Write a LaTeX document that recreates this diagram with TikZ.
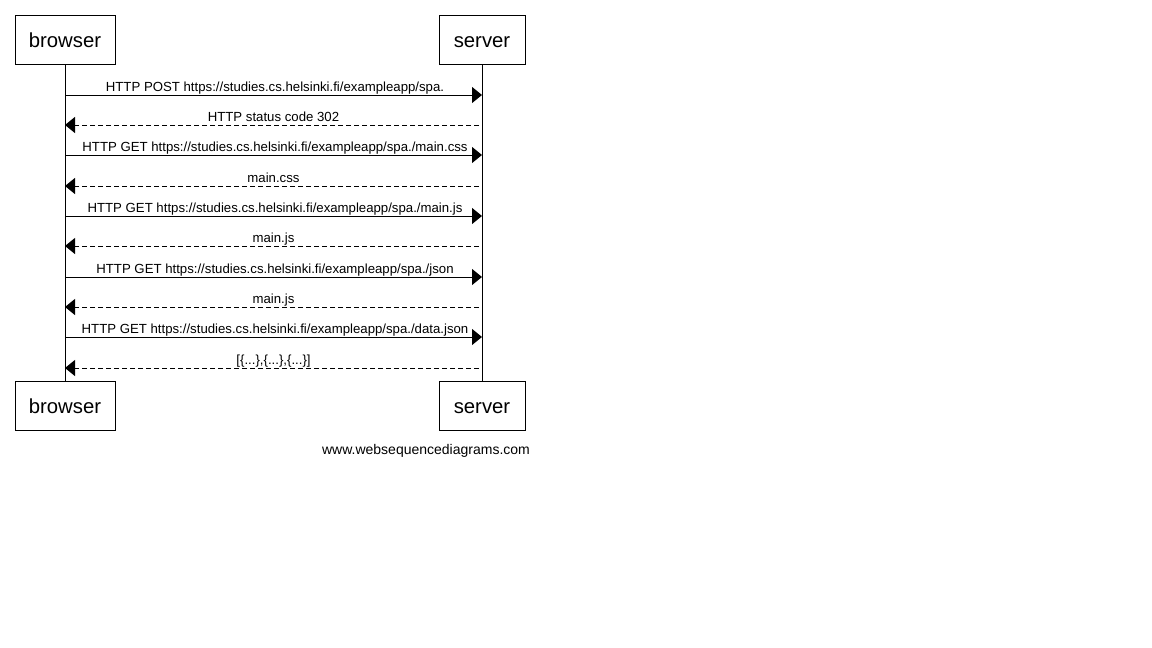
\documentclass[tikz,border=0pt]{standalone}
\usepackage{fontspec}
\setmainfont{Liberation Sans}
\usetikzlibrary{arrows.meta}
\begin{document}
\begin{tikzpicture}[x=1pt,y=-1pt,
  actor/.style={draw,line width=1pt,minimum height=49pt,inner sep=0pt,text height=15pt,text depth=0pt,font=\fontsize{20.3}{24}\selectfont},
  life/.style={line width=1pt},
  req/.style={line width=1pt,-{Triangle[length=10pt,width=16pt]}},
  resp/.style={line width=1pt,dash pattern=on 5pt off 3pt,-{Triangle[length=10pt,width=16pt]}},
  lbl/.style={midway,anchor=base,yshift=4pt,xshift=1.5pt,inner sep=0pt,font=\fontsize{13.2}{15}\selectfont}]
\fill[white] (0,0) rectangle (1152,648);
\useasboundingbox (0,0) rectangle (1152,648);
\node[actor,minimum width=100pt] (bt) at (65,39.5) {browser};
\node[actor,minimum width=86pt] (st) at (482,39.5) {server};
\node[actor,minimum width=100pt] (bb) at (65,405.5) {browser};
\node[actor,minimum width=86pt] (sb) at (482,405.5) {server};
\draw[life] (bt.south) -- (bb.north);
\draw[life] (st.south) -- (sb.north);
\coordinate (b1) at (65,95);  \coordinate (s1) at (482,95);
\coordinate (b2) at (65,125); \coordinate (s2) at (479,125);
\coordinate (b3) at (65,155); \coordinate (s3) at (482,155);
\coordinate (b4) at (65,186); \coordinate (s4) at (479,186);
\coordinate (b5) at (65,216); \coordinate (s5) at (482,216);
\coordinate (b6) at (65,246); \coordinate (s6) at (479,246);
\coordinate (b7) at (65,277); \coordinate (s7) at (482,277);
\coordinate (b8) at (65,307); \coordinate (s8) at (479,307);
\coordinate (b9) at (65,337); \coordinate (s9) at (482,337);
\coordinate (b10) at (65,368); \coordinate (s10) at (479,368);
\draw[req] (b1) -- (s1) node[lbl] {HTTP POST https://studies.cs.helsinki.fi/exampleapp/spa.};
\draw[resp] (s2) -- (b2) node[lbl] {HTTP status code 302};
\draw[req] (b3) -- (s3) node[lbl] {HTTP GET https://studies.cs.helsinki.fi/exampleapp/spa./main.css};
\draw[resp] (s4) -- (b4) node[lbl] {main.css};
\draw[req] (b5) -- (s5) node[lbl] {HTTP GET https://studies.cs.helsinki.fi/exampleapp/spa./main.js};
\draw[resp] (s6) -- (b6) node[lbl] {main.js};
\draw[req] (b7) -- (s7) node[lbl] {HTTP GET https://studies.cs.helsinki.fi/exampleapp/spa./json};
\draw[resp] (s8) -- (b8) node[lbl] {main.js};
\draw[req] (b9) -- (s9) node[lbl] {HTTP GET https://studies.cs.helsinki.fi/exampleapp/spa./data.json};
\draw[resp] (s10) -- (b10) node[lbl] {[\{...\},\{...\},\{...\}]};
\node[anchor=base,inner sep=0pt,font=\fontsize{14}{16}\selectfont] (wm) at (426,454) {www.websequencediagrams.com};
\end{tikzpicture}
\end{document}
